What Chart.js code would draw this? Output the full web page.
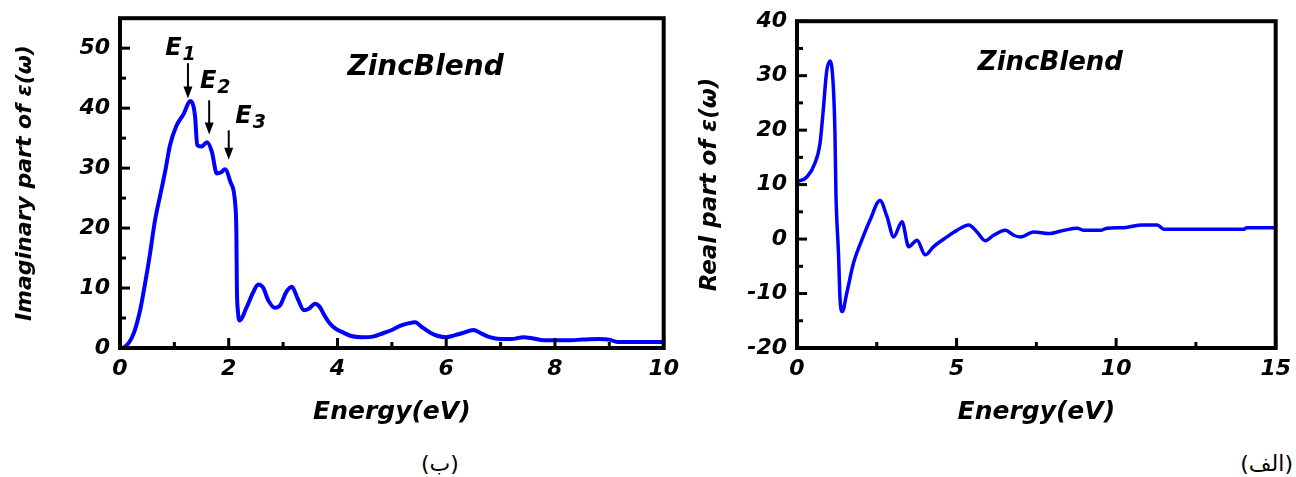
<!DOCTYPE html>
<html>
<head>
<meta charset="utf-8">
<script src="https://cdn.jsdelivr.net/npm/chart.js@4"></script>
<style>
  body { margin: 0; background: #fff; }
  #wrap { position: relative; width: 1296px; height: 477px; overflow: hidden; }
  #imagChart { position: absolute; left: 0; top: -5px; }
  #realChart { position: absolute; left: 680px; top: -2px; }
  .cap { position: absolute; font-family: 'DejaVu Sans', sans-serif; font-size: 22px; direction: rtl; color: #000; }
</style>
</head>
<body>
<div id="wrap">
  <canvas id="imagChart" width="687" height="445"></canvas>
  <canvas id="realChart" width="619" height="442"></canvas>
  <div class="cap" style="left:421px; top:451px;">(ب)</div>
  <div class="cap" style="right:3px; top:451px;">(الف)</div>
</div>
<script>
// imaginary part (left panel)
const imagEnergy = [0, 0.09, 0.25, 0.37, 0.46, 0.55, 0.64, 0.74, 0.83, 0.92, 1.04, 1.17, 1.29, 1.38, 1.42,
  1.5, 1.6, 1.69, 1.78, 1.86, 1.93, 2.03, 2.12, 2.14, 2.15, 2.17, 2.2, 2.33, 2.45, 2.54,
  2.63, 2.73, 2.85, 2.95, 3.05, 3.16, 3.27, 3.38, 3.48, 3.59, 3.67, 3.75, 3.85, 3.95, 4.1,
  4.25, 4.45, 4.65, 4.85, 5.0, 5.15, 5.3, 5.43, 5.55, 5.7, 5.85, 6.0, 6.15, 6.3, 6.5,
  6.65, 6.8, 7.0, 7.2, 7.42, 7.6, 7.8, 8.0, 8.3, 8.5, 8.8, 9.0, 9.15, 9.5, 10];
const imagValues = [0, 0.2, 2.4, 6.3, 10.7, 15.6, 21.1, 25.5, 29.4, 33.8, 37.1, 39.0, 41.2, 38.7, 33.8,
  33.6, 34.3, 32.7, 29.1, 29.3, 29.8, 27.7, 23.9, 19.5, 10.1, 6.0, 4.6, 6.8, 9.3, 10.6,
  10.1, 7.9, 6.7, 7.2, 9.2, 10.2, 8.2, 6.3, 6.6, 7.4, 6.9, 5.6, 4.2, 3.3, 2.6,
  2.0, 1.8, 1.9, 2.5, 3.0, 3.7, 4.1, 4.3, 3.5, 2.6, 2.0, 1.8, 2.1, 2.5, 3.0,
  2.4, 1.8, 1.5, 1.5, 1.8, 1.6, 1.3, 1.3, 1.3, 1.4, 1.5, 1.4, 1.0, 1.0, 1.0];

// real part (right panel)
const realEnergy = [0, 0.31, 0.56, 0.72, 0.82, 0.93, 1.04, 1.14, 1.19, 1.22, 1.3, 1.35, 1.42, 1.56, 1.77,
  2.03, 2.29, 2.6, 2.82, 3.03, 3.29, 3.5, 3.76, 4.02, 4.28, 4.7, 5.01, 5.38, 5.64, 5.9,
  6.16, 6.53, 6.79, 7.0, 7.42, 7.89, 8.36, 8.78, 8.99, 9.51, 9.72, 10.24, 10.82, 11.29, 11.49,
  14.0, 14.1, 15];
const realValues = [10.5, 11.4, 13.9, 17.5, 23.5, 30.8, 32.7, 27.8, 19.3, 8.4, -2.6, -11.1, -13.3, -9.9, -4.4,
  -0.2, 3.5, 7.1, 4.1, 0.4, 3.2, -1.4, -0.2, -2.9, -1.4, 0.4, 1.6, 2.6, 1.3, -0.3,
  0.7, 1.6, 0.7, 0.4, 1.3, 1.0, 1.6, 2.0, 1.6, 1.6, 2.0, 2.1, 2.6, 2.6, 1.8,
  1.8, 2.1, 2.1];

// tick labels / minor ticks
const imagXTicks = [0, 2, 4, 6, 8, 10];
const imagXMinor = [1, 3, 5, 7, 9];
const imagYTicks = [0, 10, 20, 30, 40, 50];
const imagYMinor = [5, 15, 25, 35, 45];
const realXTicks = [0, 5, 10, 15];
const realXMinor = [2.5, 7.5, 12.5];
const realYTicks = [-20, -10, 0, 10, 20, 30, 40];
const realYMinor = [-15, -5, 5, 15, 25, 35];

// peak markers E1..E3 on the left panel
const peakNames = ['1', '2', '3'];
const peakLabelE = [0.83, 1.47, 2.12];
const peakLabelV = [48.8, 43.4, 37.6];
const arrowE = [1.25, 1.64, 2.0];
const arrowFrom = [47.5, 41.3, 36.3];
const arrowTo = [41.6, 35.6, 31.4];

const FONT = 'DejaVu Sans';
const tickFont = { family: FONT, size: 22, weight: 'bold', style: 'italic' };

function toPoints(xs, ys) {
  return xs.map((x, i) => ({ x: x, y: ys[i] }));
}

function makeFrame(xMajor, xMinor, yMajor, yMinor) {
  return {
    id: 'frame',
    afterDatasetsDraw(chart) {
      const { ctx, chartArea: a, scales: { x, y } } = chart;
      ctx.save();
      ctx.strokeStyle = '#000';
      ctx.lineWidth = 3;
      const seg = (x1, y1, x2, y2) => { ctx.beginPath(); ctx.moveTo(x1, y1); ctx.lineTo(x2, y2); ctx.stroke(); };
      xMajor.forEach(v => { const p = x.getPixelForValue(v); seg(p, a.bottom, p, a.bottom - 10); });
      xMinor.forEach(v => { const p = x.getPixelForValue(v); seg(p, a.bottom, p, a.bottom - 6); });
      yMajor.forEach(v => { const p = y.getPixelForValue(v); seg(a.left, p, a.left + 10, p); });
      yMinor.forEach(v => { const p = y.getPixelForValue(v); seg(a.left, p, a.left + 6, p); });
      ctx.lineWidth = 4;
      ctx.strokeRect(a.left, a.top, a.right - a.left, a.bottom - a.top);
      ctx.restore();
    }
  };
}

function makeLabel(text, ex, ev, size) {
  return {
    id: 'zincLabel',
    afterDraw(chart) {
      const { ctx, scales: { x, y } } = chart;
      ctx.save();
      ctx.fillStyle = '#000';
      ctx.font = 'italic bold ' + size + 'px ' + FONT;
      ctx.textAlign = 'center';
      ctx.textBaseline = 'middle';
      ctx.fillText(text, x.getPixelForValue(ex), y.getPixelForValue(ev));
      ctx.restore();
    }
  };
}

const peakPlugin = {
  id: 'peaks',
  afterDraw(chart) {
    const { ctx, scales: { x, y } } = chart;
    ctx.save();
    ctx.fillStyle = '#000';
    ctx.strokeStyle = '#000';
    ctx.textAlign = 'left';
    ctx.textBaseline = 'alphabetic';
    peakNames.forEach((n, i) => {
      const lx = x.getPixelForValue(peakLabelE[i]);
      const ly = y.getPixelForValue(peakLabelV[i]);
      ctx.font = 'italic bold 24px ' + FONT;
      ctx.fillText('E', lx, ly);
      const w = ctx.measureText('E').width;
      ctx.font = 'italic bold 19px ' + FONT;
      ctx.fillText(n, lx + w + 1, ly + 5);

      const ax = x.getPixelForValue(arrowE[i]);
      const a0 = y.getPixelForValue(arrowFrom[i]);
      const a1 = y.getPixelForValue(arrowTo[i]);
      ctx.lineWidth = 2;
      ctx.beginPath(); ctx.moveTo(ax, a0); ctx.lineTo(ax, a1 - 10); ctx.stroke();
      ctx.beginPath();
      ctx.moveTo(ax - 4.5, a1 - 12); ctx.lineTo(ax + 4.5, a1 - 12); ctx.lineTo(ax, a1);
      ctx.closePath(); ctx.fill();
    });
    ctx.restore();
  }
};

function baseOptions(xMin, xMax, xTicks, yMin, yMax, yTicks, yTitle, yTitleSize, yAxisWidth, pad, titlePad) {
  return {
    responsive: false,
    animation: false,
    layout: { padding: pad, autoPadding: false },
    plugins: { legend: { display: false }, tooltip: { enabled: false } },
    scales: {
      x: {
        type: 'linear', min: xMin, max: xMax,
        afterBuildTicks: s => { s.ticks = xTicks.map(v => ({ value: v })); },
        afterFit: s => { s.height = 92; },
        grid: { display: false, drawTicks: false },
        border: { display: false },
        ticks: { color: '#000', font: tickFont, padding: 8, maxRotation: 0 },
        title: { display: true, text: 'Energy(eV)', color: '#000', padding: 13,
                 font: { family: FONT, size: 25, weight: 'bold', style: 'italic' } }
      },
      y: {
        min: yMin, max: yMax,
        afterBuildTicks: s => { s.ticks = yTicks.map(v => ({ value: v })); },
        afterFit: s => { s.width = yAxisWidth; },
        grid: { display: false, drawTicks: false },
        border: { display: false },
        ticks: { color: '#000', font: tickFont, padding: 10 },
        title: { display: true, text: yTitle, color: '#000', padding: titlePad,
                 font: { family: FONT, size: yTitleSize, weight: 'bold', style: 'italic' } }
      }
    }
  };
}

new Chart(document.getElementById('imagChart'), {
  type: 'line',
  data: {
    datasets: [{
      data: toPoints(imagEnergy, imagValues),
      borderColor: '#0000ff', borderWidth: 4, pointRadius: 0,
      cubicInterpolationMode: 'monotone', fill: false
    }]
  },
  options: baseOptions(0, 10, imagXTicks, 0, 55, imagYTicks, 'Imaginary part of \u03b5(\u03c9)', 22, 120,
    { left: 0, right: 17, top: 17, bottom: 0 }, 12),
  plugins: [makeFrame(imagXTicks, imagXMinor, imagYTicks, imagYMinor), peakPlugin, makeLabel('ZincBlend', 5.62, 46.7, 28)]
});

new Chart(document.getElementById('realChart'), {
  type: 'line',
  data: {
    datasets: [{
      data: toPoints(realEnergy, realValues),
      borderColor: '#0000ff', borderWidth: 3.5, pointRadius: 0,
      cubicInterpolationMode: 'monotone', fill: false
    }]
  },
  options: baseOptions(0, 15, realXTicks, -20, 40, realYTicks, 'Real part of \u03b5(\u03c9)', 23, 117,
    { left: 0, right: 21, top: 20, bottom: 0 }, 16),
  plugins: [makeFrame(realXTicks, realXMinor, realYTicks, realYMinor), makeLabel('ZincBlend', 7.94, 32.3, 26)]
});
</script>
</body>
</html>
